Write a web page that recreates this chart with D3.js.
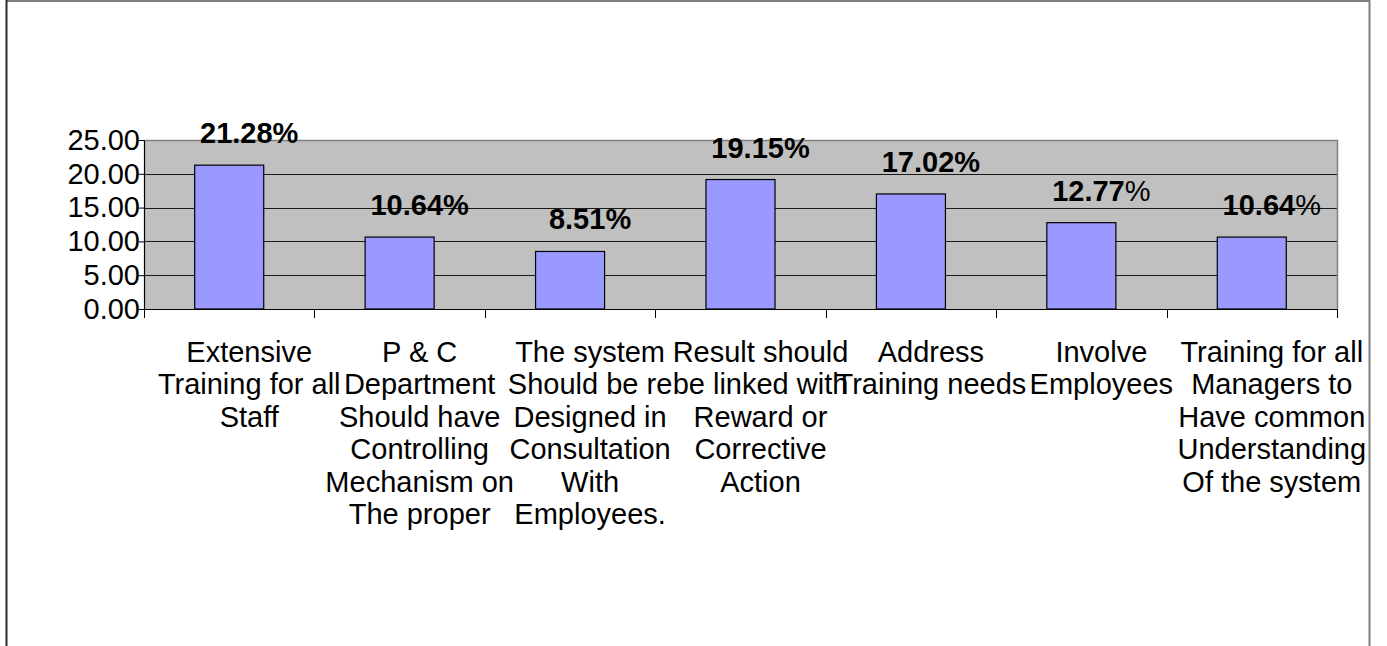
<!DOCTYPE html>
<html>
<head>
<meta charset="utf-8">
<script src="https://cdn.jsdelivr.net/npm/d3@7"></script>
<style>
  html, body { margin: 0; padding: 0; background: #ffffff; }
  svg { display: block; }
  text { font-family: "Liberation Sans", Arial, Helvetica, sans-serif; fill: #000; }
</style>
</head>
<body>
<svg id="chart" width="1387" height="646"></svg>
<script>
// Category labels, one entry per line break
const categories = [
  ["Extensive", "Training for all", "Staff"],
  ["P & C", "Department", "Should have", "Controlling", "Mechanism on", "The proper"],
  ["The system", "Should be re", "Designed in", "Consultation", "With", "Employees."],
  ["Result should", "be linked with", "Reward or", "Corrective", "Action"],
  ["Address", "Training needs"],
  ["Involve", "Employees"],
  ["Training for all", "Managers to", "Have common", "Understanding", "Of the system"]
];
// Share of responses (%)
const values = [21.28, 10.64, 8.51, 19.15, 17.02, 12.77, 10.64];
// Whether the "%" sign of each value label is set in bold
const percentBold = [true, true, true, true, true, false, false];
const yTicks = [0, 5, 10, 15, 20, 25];

const W = 1387, H = 646;
const plot = { left: 144, right: 1337, top: 140, bottom: 309 };
const textShift = 20;
const fontSize = 29;

const svg = d3.select("#chart");

// outer chart frame
svg.append("rect").attr("x", 0).attr("y", 0).attr("width", W).attr("height", H).attr("fill", "#fff");
svg.append("line").attr("x1", 6).attr("x2", 1370).attr("y1", 1).attr("y2", 1)
  .attr("stroke", "#808080").attr("stroke-width", 2);
svg.append("line").attr("x1", 1369.5).attr("x2", 1369.5).attr("y1", 0).attr("y2", H)
  .attr("stroke", "#808080").attr("stroke-width", 2);
svg.append("line").attr("x1", 6.5).attr("x2", 6.5).attr("y1", 0).attr("y2", H)
  .attr("stroke", "#2a2a2a").attr("stroke-width", 2);

svg.append("clipPath").attr("id", "frameClip")
  .append("rect").attr("x", 7).attr("y", 2).attr("width", 1361).attr("height", H);

const x = d3.scaleBand().domain(d3.range(values.length)).range([plot.left, plot.right]).padding(0);
const y = d3.scaleLinear().domain([0, 25]).range([plot.bottom, plot.top]);
const crisp = v => Math.round(v) + 0.5;

// plot background
svg.append("rect")
  .attr("x", plot.left).attr("y", plot.top)
  .attr("width", plot.right - plot.left).attr("height", plot.bottom - plot.top)
  .attr("fill", "#c0c0c0");

// horizontal gridlines
svg.append("g").selectAll("line")
  .data(yTicks.filter(t => t > 0 && t < 25))
  .join("line")
  .attr("x1", plot.left).attr("x2", plot.right)
  .attr("y1", d => crisp(y(d))).attr("y2", d => crisp(y(d)))
  .attr("stroke", "#1a1a1a").attr("stroke-width", 1);

// plot border (top and right)
svg.append("path")
  .attr("d", `M${plot.left},${crisp(plot.top)}H${crisp(plot.right)}V${plot.bottom}`)
  .attr("fill", "none").attr("stroke", "#808080").attr("stroke-width", 1.5);

// bars
const barW = x.bandwidth() * 0.405;
svg.append("g").selectAll("rect")
  .data(values)
  .join("rect")
  .attr("x", (d, i) => x(i) + (x.bandwidth() - barW) / 2)
  .attr("y", d => y(d))
  .attr("width", barW)
  .attr("height", d => y(0) - y(d))
  .attr("fill", "#9999ff")
  .attr("stroke", "#000").attr("stroke-width", 1.2);

// y axis
const yAxis = svg.append("g")
  .attr("transform", `translate(${plot.left},0)`)
  .call(d3.axisLeft(y).tickValues(yTicks).tickFormat(d3.format(".2f"))
    .tickSizeInner(5).tickSizeOuter(0).tickPadding(-1));
yAxis.select(".domain").attr("stroke", "#000").attr("stroke-width", 1.2);
yAxis.selectAll(".tick line").attr("stroke", "#000");
yAxis.selectAll(".tick text")
  .style("font-family", '"Liberation Sans", Arial, sans-serif')
  .attr("font-size", fontSize).attr("fill", "#000");

// x axis line and category boundary ticks
svg.append("line")
  .attr("x1", plot.left).attr("x2", plot.right)
  .attr("y1", crisp(plot.bottom)).attr("y2", crisp(plot.bottom))
  .attr("stroke", "#000").attr("stroke-width", 1.2);
svg.append("g").selectAll("line")
  .data(d3.range(values.length + 1).map(i => plot.left + i * x.step()))
  .join("line")
  .attr("x1", d => crisp(d)).attr("x2", d => crisp(d))
  .attr("y1", plot.bottom).attr("y2", plot.bottom + 9)
  .attr("stroke", "#000").attr("stroke-width", 1);

// category labels
const catG = svg.append("g").attr("clip-path", "url(#frameClip)");
categories.forEach((lines, i) => {
  const cx = x(i) + x.bandwidth() / 2 + textShift;
  const t = catG.append("text")
    .attr("text-anchor", "middle")
    .attr("font-size", fontSize)
    .attr("x", cx).attr("y", 362);
  lines.forEach((ln, k) => {
    t.append("tspan").attr("x", cx).attr("dy", k === 0 ? 0 : 32.4).text(ln);
  });
});

// value labels
const lblG = svg.append("g");
values.forEach((v, i) => {
  const cx = x(i) + x.bandwidth() / 2 + textShift;
  const t = lblG.append("text")
    .attr("text-anchor", "middle")
    .attr("font-size", fontSize)
    .attr("x", cx).attr("y", y(v) - 22);
  t.append("tspan").attr("font-weight", "bold").text(d3.format(".2f")(v));
  t.append("tspan").attr("font-weight", percentBold[i] ? "bold" : "normal").text("%");
});
</script>
</body>
</html>
